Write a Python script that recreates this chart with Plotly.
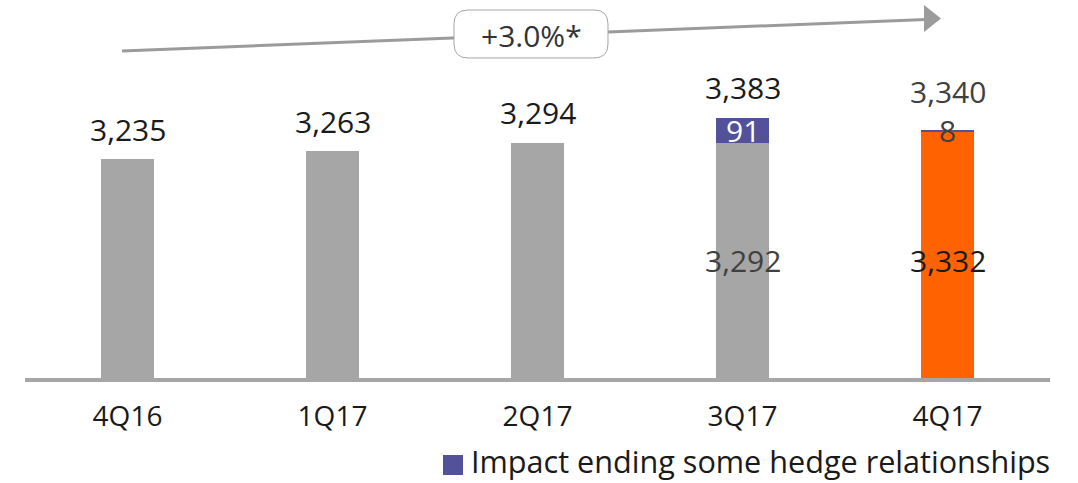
import plotly.graph_objects as go

# ---- data ----
categories = ["4Q16", "1Q17", "2Q17", "3Q17", "4Q17"]
underlying = [3235, 3263, 3294, 3292, 3332]
hedge_impact = [0, 0, 0, 91, 8]
hedge_label_text = ["", "", "", "91", "8"]
growth_label = "+3.0%*"
legend_label = "Impact ending some hedge relationships"

# ---- style ----
FONT = "Open Sans"
GRAY = "#A6A6A6"
ORANGE = "#FF6200"
PURPLE = "#525199"
W, H = 1078, 483
ML, MR, MT, MB = 25, 28, 10, 105
PW, PH = W - ML - MR, H - MT - MB
YMIN = 2453
PX_PER_UNIT = 0.28

totals = [u + h for u, h in zip(underlying, hedge_impact)]
base_colors = [GRAY] * (len(categories) - 1) + [ORANGE]

fig = go.Figure()
fig.add_trace(go.Bar(x=categories, y=underlying, marker=dict(color=base_colors, line=dict(width=0)),
                     showlegend=False, hoverinfo="skip"))
fig.add_trace(go.Bar(x=categories, y=hedge_impact, marker=dict(color=PURPLE, line=dict(width=0)),
                     name=legend_label, showlegend=False, hoverinfo="skip"))


def px(x):
    return (x - ML) / PW


def py(y):
    return (H - MB - y) / PH


annotations = []
# labels on top of bars
for i, c in enumerate(categories):
    shift = 30 if hedge_impact[i] == 0 or hedge_impact[i] > 20 else 38
    annotations.append(dict(x=c, y=totals[i], xref="x", yref="y", text=f"{totals[i]:,}",
                            showarrow=False, yanchor="middle", yshift=shift,
                            font=dict(family=FONT, size=30, color="#404040" if i == 4 else "#1a1a1a")))
# inside labels for stacked bars
for i, c in enumerate(categories):
    if hedge_impact[i] > 0:
        annotations.append(dict(x=c, y=(YMIN + underlying[i]) / 2, xref="x", yref="y",
                                text=f"{underlying[i]:,}", showarrow=False, yanchor="middle",
                                yshift=-6 if i == 4 else 0,
                                font=dict(family=FONT, size=30, color="#1a1a1a" if i == 4 else "#404040")))
        annotations.append(dict(x=c, y=underlying[i] + hedge_impact[i] / 2, xref="x", yref="y",
                                text=hedge_label_text[i], showarrow=False, yanchor="middle",
                                font=dict(family=FONT, size=30, color="white" if hedge_impact[i] > 20 else "#404040")))

# growth box text
annotations.append(dict(x=px(531), y=py(35), xref="paper", yref="paper", text=growth_label,
                        showarrow=False, xanchor="center", yanchor="middle",
                        font=dict(family=FONT, size=30, color="#333333")))
# legend text
annotations.append(dict(x=px(469), y=py(461), xref="paper", yref="paper", text=legend_label,
                        showarrow=False, xanchor="left", yanchor="middle",
                        font=dict(family=FONT, size=30.6, color="#1a1a1a")))


def rounded_rect(x0, y0, x1, y1, r):
    pts = [
        ("M", [(x0 + r, y0)]),
        ("L", [(x1 - r, y0)]),
        ("Q", [(x1, y0), (x1, y0 + r)]),
        ("L", [(x1, y1 - r)]),
        ("Q", [(x1, y1), (x1 - r, y1)]),
        ("L", [(x0 + r, y1)]),
        ("Q", [(x0, y1), (x0, y1 - r)]),
        ("L", [(x0, y0 + r)]),
        ("Q", [(x0, y0), (x0 + r, y0)]),
    ]
    s = ""
    for cmd, ps in pts:
        s += cmd + " ".join(f"{px(a):.5f},{py(b):.5f}" for a, b in ps) + " "
    return s + "Z"


shapes = [
    dict(type="line", xref="paper", yref="paper", x0=px(122), y0=py(51), x1=px(926), y1=py(19.5),
         line=dict(color="#9B9B9B", width=3)),
    dict(type="path", xref="paper", yref="paper",
         path=f"M{px(924)},{py(5)} L{px(941)},{py(18.5)} L{px(924)},{py(32)} Z",
         fillcolor="#9B9B9B", line=dict(width=0)),
    dict(type="path", xref="paper", yref="paper", path=rounded_rect(454, 10, 608, 58, 14),
         fillcolor="white", line=dict(color="#A6A6A6", width=1)),
    dict(type="rect", xref="paper", yref="paper", x0=px(443), y0=py(455), x1=px(463), y1=py(475),
         fillcolor=PURPLE, line=dict(width=0)),
]

fig.update_layout(
    width=W, height=H, barmode="stack", bargap=0.746,
    margin=dict(l=ML, r=MR, t=MT, b=MB, autoexpand=False),
    paper_bgcolor="white", plot_bgcolor="white",
    font=dict(family=FONT, color="#1a1a1a"),
    xaxis=dict(showline=True, linecolor=GRAY, linewidth=3.5, ticks="", showgrid=False,
               tickfont=dict(family=FONT, size=28, color="#1a1a1a"), ticklabelstandoff=11),
    yaxis=dict(visible=False, range=[YMIN, YMIN + PH / PX_PER_UNIT], showgrid=False, zeroline=False),
    annotations=annotations, shapes=shapes, showlegend=False,
)
fig.write_html("out.html", config={"displayModeBar": False},
               post_script="document.body.style.margin='0';document.body.style.overflow='hidden';")
